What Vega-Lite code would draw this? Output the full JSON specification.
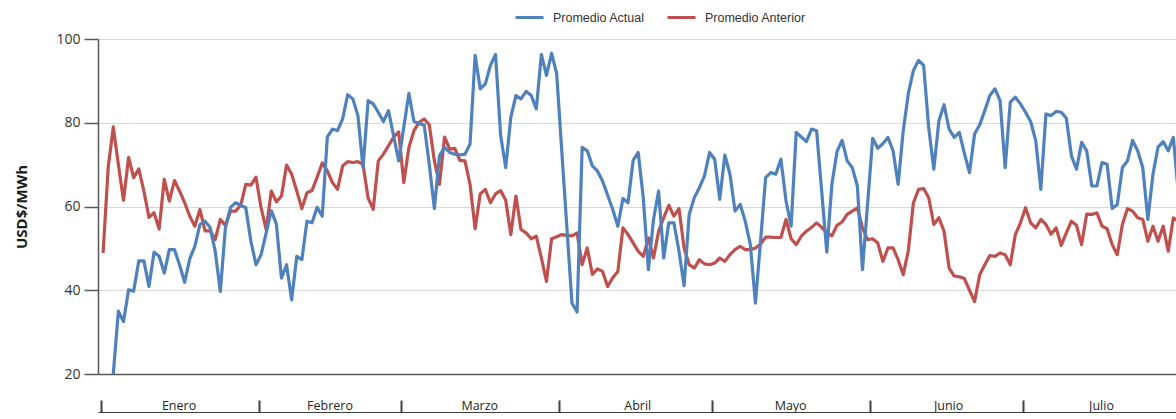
{
"$schema": "https://vega.github.io/schema/vega-lite/v6.json",
"width": 1078, "height": 335,
"autosize": {"type": "none"},
"padding": {"left": 98, "top": 39, "right": 0, "bottom": 45},
"background": "white",
"config": {"view": {"stroke": null}},
"data": {"format": {"parse": {"fecha": "utc:'%Y-%m-%d'"}}, "values": [
{"fecha":"2023-01-01","Promedio Actual":null,"Promedio Anterior":48.9},
{"fecha":"2023-01-02","Promedio Actual":null,"Promedio Anterior":69.3},
{"fecha":"2023-01-03","Promedio Actual":20,"Promedio Anterior":79},
{"fecha":"2023-01-04","Promedio Actual":35,"Promedio Anterior":70},
{"fecha":"2023-01-05","Promedio Actual":32.5,"Promedio Anterior":61.5},
{"fecha":"2023-01-06","Promedio Actual":40.1,"Promedio Anterior":71.7},
{"fecha":"2023-01-07","Promedio Actual":39.8,"Promedio Anterior":66.9},
{"fecha":"2023-01-08","Promedio Actual":47,"Promedio Anterior":69},
{"fecha":"2023-01-09","Promedio Actual":47,"Promedio Anterior":63.7},
{"fecha":"2023-01-10","Promedio Actual":40.9,"Promedio Anterior":57.4},
{"fecha":"2023-01-11","Promedio Actual":49.1,"Promedio Anterior":58.5},
{"fecha":"2023-01-12","Promedio Actual":48.1,"Promedio Anterior":54.6},
{"fecha":"2023-01-13","Promedio Actual":44.1,"Promedio Anterior":66.5},
{"fecha":"2023-01-14","Promedio Actual":49.7,"Promedio Anterior":61.3},
{"fecha":"2023-01-15","Promedio Actual":49.7,"Promedio Anterior":66.2},
{"fecha":"2023-01-16","Promedio Actual":46.1,"Promedio Anterior":63.7},
{"fecha":"2023-01-17","Promedio Actual":41.9,"Promedio Anterior":60.9},
{"fecha":"2023-01-18","Promedio Actual":47.5,"Promedio Anterior":57.7},
{"fecha":"2023-01-19","Promedio Actual":50.5,"Promedio Anterior":55.3},
{"fecha":"2023-01-20","Promedio Actual":55.7,"Promedio Anterior":59.3},
{"fecha":"2023-01-21","Promedio Actual":56.5,"Promedio Anterior":54.2},
{"fecha":"2023-01-22","Promedio Actual":55,"Promedio Anterior":54.2},
{"fecha":"2023-01-23","Promedio Actual":49.3,"Promedio Anterior":52.1},
{"fecha":"2023-01-24","Promedio Actual":39.7,"Promedio Anterior":56.9},
{"fecha":"2023-01-25","Promedio Actual":54.9,"Promedio Anterior":55.5},
{"fecha":"2023-01-26","Promedio Actual":59.8,"Promedio Anterior":58.9},
{"fecha":"2023-01-27","Promedio Actual":60.9,"Promedio Anterior":58.9},
{"fecha":"2023-01-28","Promedio Actual":60.3,"Promedio Anterior":60.3},
{"fecha":"2023-01-29","Promedio Actual":59.7,"Promedio Anterior":65.3},
{"fecha":"2023-01-30","Promedio Actual":51.7,"Promedio Anterior":65.1},
{"fecha":"2023-01-31","Promedio Actual":46.1,"Promedio Anterior":67},
{"fecha":"2023-02-01","Promedio Actual":48.5,"Promedio Anterior":59.7},
{"fecha":"2023-02-02","Promedio Actual":53.7,"Promedio Anterior":54.5},
{"fecha":"2023-02-03","Promedio Actual":59,"Promedio Anterior":63.7},
{"fecha":"2023-02-04","Promedio Actual":55.8,"Promedio Anterior":61.1},
{"fecha":"2023-02-05","Promedio Actual":42.9,"Promedio Anterior":62.5},
{"fecha":"2023-02-06","Promedio Actual":46.1,"Promedio Anterior":69.9},
{"fecha":"2023-02-07","Promedio Actual":37.7,"Promedio Anterior":67.7},
{"fecha":"2023-02-08","Promedio Actual":48.1,"Promedio Anterior":63.7},
{"fecha":"2023-02-09","Promedio Actual":47.3,"Promedio Anterior":59.5},
{"fecha":"2023-02-10","Promedio Actual":56.5,"Promedio Anterior":63.3},
{"fecha":"2023-02-11","Promedio Actual":56.1,"Promedio Anterior":63.8},
{"fecha":"2023-02-12","Promedio Actual":59.8,"Promedio Anterior":67},
{"fecha":"2023-02-13","Promedio Actual":57.7,"Promedio Anterior":70.4},
{"fecha":"2023-02-14","Promedio Actual":76.6,"Promedio Anterior":68.5},
{"fecha":"2023-02-15","Promedio Actual":78.5,"Promedio Anterior":65.7},
{"fecha":"2023-02-16","Promedio Actual":78.1,"Promedio Anterior":64.1},
{"fecha":"2023-02-17","Promedio Actual":80.9,"Promedio Anterior":69.7},
{"fecha":"2023-02-18","Promedio Actual":86.7,"Promedio Anterior":70.7},
{"fecha":"2023-02-19","Promedio Actual":85.7,"Promedio Anterior":70.5},
{"fecha":"2023-02-20","Promedio Actual":81.7,"Promedio Anterior":70.7},
{"fecha":"2023-02-21","Promedio Actual":69.3,"Promedio Anterior":70.1},
{"fecha":"2023-02-22","Promedio Actual":85.3,"Promedio Anterior":62},
{"fecha":"2023-02-23","Promedio Actual":84.5,"Promedio Anterior":59.3},
{"fecha":"2023-02-24","Promedio Actual":82.5,"Promedio Anterior":70.9},
{"fecha":"2023-02-25","Promedio Actual":80.3,"Promedio Anterior":72.5},
{"fecha":"2023-02-26","Promedio Actual":82.9,"Promedio Anterior":74.5},
{"fecha":"2023-02-27","Promedio Actual":76.9,"Promedio Anterior":76.6},
{"fecha":"2023-02-28","Promedio Actual":70.9,"Promedio Anterior":77.8},
{"fecha":"2023-03-01","Promedio Actual":78.9,"Promedio Anterior":65.7},
{"fecha":"2023-03-02","Promedio Actual":87,"Promedio Anterior":74.1},
{"fecha":"2023-03-03","Promedio Actual":80.3,"Promedio Anterior":78.1},
{"fecha":"2023-03-04","Promedio Actual":79.8,"Promedio Anterior":80.1},
{"fecha":"2023-03-05","Promedio Actual":79.5,"Promedio Anterior":80.9},
{"fecha":"2023-03-06","Promedio Actual":70.1,"Promedio Anterior":79.5},
{"fecha":"2023-03-07","Promedio Actual":59.5,"Promedio Anterior":70.9},
{"fecha":"2023-03-08","Promedio Actual":72.1,"Promedio Anterior":65.3},
{"fecha":"2023-03-09","Promedio Actual":74.1,"Promedio Anterior":76.6},
{"fecha":"2023-03-10","Promedio Actual":72.9,"Promedio Anterior":73.7},
{"fecha":"2023-03-11","Promedio Actual":72.5,"Promedio Anterior":73.9},
{"fecha":"2023-03-12","Promedio Actual":72.3,"Promedio Anterior":71},
{"fecha":"2023-03-13","Promedio Actual":72.5,"Promedio Anterior":70.9},
{"fecha":"2023-03-14","Promedio Actual":74.9,"Promedio Anterior":65.3},
{"fecha":"2023-03-15","Promedio Actual":96.1,"Promedio Anterior":54.7},
{"fecha":"2023-03-16","Promedio Actual":88.1,"Promedio Anterior":63},
{"fecha":"2023-03-17","Promedio Actual":89.3,"Promedio Anterior":64.1},
{"fecha":"2023-03-18","Promedio Actual":93.7,"Promedio Anterior":60.9},
{"fecha":"2023-03-19","Promedio Actual":96.3,"Promedio Anterior":63},
{"fecha":"2023-03-20","Promedio Actual":77,"Promedio Anterior":63.8},
{"fecha":"2023-03-21","Promedio Actual":69.3,"Promedio Anterior":61.5},
{"fecha":"2023-03-22","Promedio Actual":81.3,"Promedio Anterior":53.3},
{"fecha":"2023-03-23","Promedio Actual":86.5,"Promedio Anterior":62.5},
{"fecha":"2023-03-24","Promedio Actual":85.7,"Promedio Anterior":54.5},
{"fecha":"2023-03-25","Promedio Actual":87.5,"Promedio Anterior":53.7},
{"fecha":"2023-03-26","Promedio Actual":86.5,"Promedio Anterior":52.3},
{"fecha":"2023-03-27","Promedio Actual":83.3,"Promedio Anterior":52.9},
{"fecha":"2023-03-28","Promedio Actual":96.3,"Promedio Anterior":47.7},
{"fecha":"2023-03-29","Promedio Actual":91.3,"Promedio Anterior":42.1},
{"fecha":"2023-03-30","Promedio Actual":96.6,"Promedio Anterior":52.3},
{"fecha":"2023-03-31","Promedio Actual":91.7,"Promedio Anterior":52.8},
{"fecha":"2023-04-01","Promedio Actual":73.3,"Promedio Anterior":53.3},
{"fecha":"2023-04-02","Promedio Actual":55,"Promedio Anterior":53.1},
{"fecha":"2023-04-03","Promedio Actual":36.9,"Promedio Anterior":53},
{"fecha":"2023-04-04","Promedio Actual":34.8,"Promedio Anterior":53.7},
{"fecha":"2023-04-05","Promedio Actual":74.1,"Promedio Anterior":46.1},
{"fecha":"2023-04-06","Promedio Actual":73.3,"Promedio Anterior":50.1},
{"fecha":"2023-04-07","Promedio Actual":69.7,"Promedio Anterior":43.8},
{"fecha":"2023-04-08","Promedio Actual":68.5,"Promedio Anterior":45.1},
{"fecha":"2023-04-09","Promedio Actual":66.1,"Promedio Anterior":44.5},
{"fecha":"2023-04-10","Promedio Actual":62.7,"Promedio Anterior":40.9},
{"fecha":"2023-04-11","Promedio Actual":59.3,"Promedio Anterior":43},
{"fecha":"2023-04-12","Promedio Actual":55.3,"Promedio Anterior":44.5},
{"fecha":"2023-04-13","Promedio Actual":61.9,"Promedio Anterior":54.9},
{"fecha":"2023-04-14","Promedio Actual":60.9,"Promedio Anterior":53.3},
{"fecha":"2023-04-15","Promedio Actual":71,"Promedio Anterior":51.3},
{"fecha":"2023-04-16","Promedio Actual":72.9,"Promedio Anterior":49.3},
{"fecha":"2023-04-17","Promedio Actual":62,"Promedio Anterior":48.1},
{"fecha":"2023-04-18","Promedio Actual":44.9,"Promedio Anterior":52.5},
{"fecha":"2023-04-19","Promedio Actual":56.9,"Promedio Anterior":47.7},
{"fecha":"2023-04-20","Promedio Actual":63.7,"Promedio Anterior":54.1},
{"fecha":"2023-04-21","Promedio Actual":47.7,"Promedio Anterior":57.3},
{"fecha":"2023-04-22","Promedio Actual":56.1,"Promedio Anterior":60.3},
{"fecha":"2023-04-23","Promedio Actual":56.1,"Promedio Anterior":57.7},
{"fecha":"2023-04-24","Promedio Actual":49.3,"Promedio Anterior":59.5},
{"fecha":"2023-04-25","Promedio Actual":41.1,"Promedio Anterior":50.1},
{"fecha":"2023-04-26","Promedio Actual":58.1,"Promedio Anterior":46.1},
{"fecha":"2023-04-27","Promedio Actual":62.1,"Promedio Anterior":45.3},
{"fecha":"2023-04-28","Promedio Actual":64.5,"Promedio Anterior":47.3},
{"fecha":"2023-04-29","Promedio Actual":67.3,"Promedio Anterior":46.3},
{"fecha":"2023-04-30","Promedio Actual":72.9,"Promedio Anterior":46.1},
{"fecha":"2023-05-01","Promedio Actual":71.3,"Promedio Anterior":46.5},
{"fecha":"2023-05-02","Promedio Actual":61.7,"Promedio Anterior":47.7},
{"fecha":"2023-05-03","Promedio Actual":72.3,"Promedio Anterior":46.9},
{"fecha":"2023-05-04","Promedio Actual":67.7,"Promedio Anterior":48.5},
{"fecha":"2023-05-05","Promedio Actual":58.9,"Promedio Anterior":49.7},
{"fecha":"2023-05-06","Promedio Actual":60.5,"Promedio Anterior":50.5},
{"fecha":"2023-05-07","Promedio Actual":56.5,"Promedio Anterior":49.7},
{"fecha":"2023-05-08","Promedio Actual":50.9,"Promedio Anterior":49.7},
{"fecha":"2023-05-09","Promedio Actual":36.9,"Promedio Anterior":50.1},
{"fecha":"2023-05-10","Promedio Actual":51.7,"Promedio Anterior":51},
{"fecha":"2023-05-11","Promedio Actual":66.9,"Promedio Anterior":52.7},
{"fecha":"2023-05-12","Promedio Actual":68.1,"Promedio Anterior":52.7},
{"fecha":"2023-05-13","Promedio Actual":67.7,"Promedio Anterior":52.6},
{"fecha":"2023-05-14","Promedio Actual":71.3,"Promedio Anterior":52.6},
{"fecha":"2023-05-15","Promedio Actual":61.3,"Promedio Anterior":56.9},
{"fecha":"2023-05-16","Promedio Actual":55.3,"Promedio Anterior":52.3},
{"fecha":"2023-05-17","Promedio Actual":77.7,"Promedio Anterior":50.9},
{"fecha":"2023-05-18","Promedio Actual":76.6,"Promedio Anterior":52.9},
{"fecha":"2023-05-19","Promedio Actual":75.5,"Promedio Anterior":54.1},
{"fecha":"2023-05-20","Promedio Actual":78.5,"Promedio Anterior":55},
{"fecha":"2023-05-21","Promedio Actual":78.1,"Promedio Anterior":56.1},
{"fecha":"2023-05-22","Promedio Actual":63.6,"Promedio Anterior":55},
{"fecha":"2023-05-23","Promedio Actual":49.1,"Promedio Anterior":53.7},
{"fecha":"2023-05-24","Promedio Actual":65.3,"Promedio Anterior":53},
{"fecha":"2023-05-25","Promedio Actual":73.1,"Promedio Anterior":55.5},
{"fecha":"2023-05-26","Promedio Actual":75.8,"Promedio Anterior":56.3},
{"fecha":"2023-05-27","Promedio Actual":70.9,"Promedio Anterior":58.1},
{"fecha":"2023-05-28","Promedio Actual":69.3,"Promedio Anterior":58.9},
{"fecha":"2023-05-29","Promedio Actual":64.9,"Promedio Anterior":59.7},
{"fecha":"2023-05-30","Promedio Actual":44.9,"Promedio Anterior":54.9},
{"fecha":"2023-05-31","Promedio Actual":60.5,"Promedio Anterior":52.1},
{"fecha":"2023-06-01","Promedio Actual":76.3,"Promedio Anterior":52.3},
{"fecha":"2023-06-02","Promedio Actual":73.9,"Promedio Anterior":51.3},
{"fecha":"2023-06-03","Promedio Actual":75,"Promedio Anterior":46.9},
{"fecha":"2023-06-04","Promedio Actual":76.5,"Promedio Anterior":50.1},
{"fecha":"2023-06-05","Promedio Actual":73.3,"Promedio Anterior":50.1},
{"fecha":"2023-06-06","Promedio Actual":65.3,"Promedio Anterior":47.3},
{"fecha":"2023-06-07","Promedio Actual":78.1,"Promedio Anterior":43.7},
{"fecha":"2023-06-08","Promedio Actual":87,"Promedio Anterior":49.5},
{"fecha":"2023-06-09","Promedio Actual":92.5,"Promedio Anterior":60.9},
{"fecha":"2023-06-10","Promedio Actual":94.9,"Promedio Anterior":64.1},
{"fecha":"2023-06-11","Promedio Actual":93.7,"Promedio Anterior":64.3},
{"fecha":"2023-06-12","Promedio Actual":78.8,"Promedio Anterior":62.1},
{"fecha":"2023-06-13","Promedio Actual":68.9,"Promedio Anterior":55.7},
{"fecha":"2023-06-14","Promedio Actual":80.5,"Promedio Anterior":57.3},
{"fecha":"2023-06-15","Promedio Actual":84.3,"Promedio Anterior":54.1},
{"fecha":"2023-06-16","Promedio Actual":78.5,"Promedio Anterior":45.3},
{"fecha":"2023-06-17","Promedio Actual":76.5,"Promedio Anterior":43.4},
{"fecha":"2023-06-18","Promedio Actual":77.7,"Promedio Anterior":43.2},
{"fecha":"2023-06-19","Promedio Actual":72.7,"Promedio Anterior":42.8},
{"fecha":"2023-06-20","Promedio Actual":68.1,"Promedio Anterior":40},
{"fecha":"2023-06-21","Promedio Actual":77.3,"Promedio Anterior":37.3},
{"fecha":"2023-06-22","Promedio Actual":79.5,"Promedio Anterior":43.7},
{"fecha":"2023-06-23","Promedio Actual":82.9,"Promedio Anterior":46.1},
{"fecha":"2023-06-24","Promedio Actual":86.5,"Promedio Anterior":48.3},
{"fecha":"2023-06-25","Promedio Actual":88.1,"Promedio Anterior":48.1},
{"fecha":"2023-06-26","Promedio Actual":85.3,"Promedio Anterior":48.9},
{"fecha":"2023-06-27","Promedio Actual":69.3,"Promedio Anterior":48.5},
{"fecha":"2023-06-28","Promedio Actual":84.9,"Promedio Anterior":46.1},
{"fecha":"2023-06-29","Promedio Actual":86.1,"Promedio Anterior":53.3},
{"fecha":"2023-06-30","Promedio Actual":84.5,"Promedio Anterior":56.1},
{"fecha":"2023-07-01","Promedio Actual":82.5,"Promedio Anterior":59.7},
{"fecha":"2023-07-02","Promedio Actual":80.3,"Promedio Anterior":56.1},
{"fecha":"2023-07-03","Promedio Actual":75.7,"Promedio Anterior":54.9},
{"fecha":"2023-07-04","Promedio Actual":64.1,"Promedio Anterior":56.9},
{"fecha":"2023-07-05","Promedio Actual":82.1,"Promedio Anterior":55.7},
{"fecha":"2023-07-06","Promedio Actual":81.7,"Promedio Anterior":53.4},
{"fecha":"2023-07-07","Promedio Actual":82.7,"Promedio Anterior":54.9},
{"fecha":"2023-07-08","Promedio Actual":82.5,"Promedio Anterior":50.7},
{"fecha":"2023-07-09","Promedio Actual":81.1,"Promedio Anterior":53.7},
{"fecha":"2023-07-10","Promedio Actual":72.1,"Promedio Anterior":56.5},
{"fecha":"2023-07-11","Promedio Actual":68.9,"Promedio Anterior":55.5},
{"fecha":"2023-07-12","Promedio Actual":75.3,"Promedio Anterior":50.9},
{"fecha":"2023-07-13","Promedio Actual":73.3,"Promedio Anterior":58.2},
{"fecha":"2023-07-14","Promedio Actual":64.9,"Promedio Anterior":58.1},
{"fecha":"2023-07-15","Promedio Actual":64.9,"Promedio Anterior":58.5},
{"fecha":"2023-07-16","Promedio Actual":70.5,"Promedio Anterior":55.3},
{"fecha":"2023-07-17","Promedio Actual":70.1,"Promedio Anterior":54.7},
{"fecha":"2023-07-18","Promedio Actual":59.5,"Promedio Anterior":50.9},
{"fecha":"2023-07-19","Promedio Actual":60.5,"Promedio Anterior":48.5},
{"fecha":"2023-07-20","Promedio Actual":69.3,"Promedio Anterior":55.7},
{"fecha":"2023-07-21","Promedio Actual":70.9,"Promedio Anterior":59.5},
{"fecha":"2023-07-22","Promedio Actual":75.8,"Promedio Anterior":58.9},
{"fecha":"2023-07-23","Promedio Actual":73.3,"Promedio Anterior":57.3},
{"fecha":"2023-07-24","Promedio Actual":69.3,"Promedio Anterior":56.9},
{"fecha":"2023-07-25","Promedio Actual":56.9,"Promedio Anterior":51.7},
{"fecha":"2023-07-26","Promedio Actual":67.7,"Promedio Anterior":55.3},
{"fecha":"2023-07-27","Promedio Actual":74.2,"Promedio Anterior":51.7},
{"fecha":"2023-07-28","Promedio Actual":75.5,"Promedio Anterior":55.3},
{"fecha":"2023-07-29","Promedio Actual":73.3,"Promedio Anterior":49.3},
{"fecha":"2023-07-30","Promedio Actual":76.5,"Promedio Anterior":57.3},
{"fecha":"2023-07-31","Promedio Actual":63,"Promedio Anterior":56.5}
]},
"transform": [
  {"fold": ["Promedio Actual", "Promedio Anterior"], "as": ["serie", "valor"]},
  {"filter": "datum.valor != null"}
],
"mark": {"type": "line", "strokeWidth": 3.2, "clip": true, "strokeJoin": "round"},
"encoding": {
  "x": {
    "field": "fecha", "type": "temporal",
    "scale": {"type": "utc", "domain": [
      {"year": 2022, "month": 12, "date": 31, "utc": true},
      {"year": 2023, "month": 7, "date": 30, "hours": 12, "minutes": 30, "utc": true}
    ]},
    "axis": {
      "title": null,
      "values": [
        {"year": 2022, "month": 12, "date": 31, "hours": 12, "utc": true},
        {"year": 2023, "month": 1, "date": 31, "hours": 12, "utc": true},
        {"year": 2023, "month": 2, "date": 28, "hours": 12, "utc": true},
        {"year": 2023, "month": 3, "date": 31, "hours": 12, "utc": true},
        {"year": 2023, "month": 4, "date": 30, "hours": 12, "utc": true},
        {"year": 2023, "month": 5, "date": 31, "hours": 12, "utc": true},
        {"year": 2023, "month": 6, "date": 30, "hours": 12, "utc": true}
      ],
      "labelExpr": "['Enero','Febrero','Marzo','Abril','Mayo','Junio','Julio','Agosto','Septiembre','Octubre','Noviembre','Diciembre'][utcmonth(datum.value + 86400000)]",
      "grid": false,
      "offset": 38,
      "domainColor": "#404040", "domainWidth": 1,
      "tickColor": "#404040", "tickSize": -12, "tickWidth": 2,
      "labelAlign": "center", "labelBaseline": "middle", "labelPadding": 5,
      "labelOffset": {"condition": {"test": "utcmonth(datum.value + 86400000) == 1", "value": 71}, "value": 78},
      "labelFlush": false, "labelOverlap": false, "labelBound": false,
      "labelFont": "Open Sans", "labelFontSize": 12.5, "labelColor": "#262626"
    }
  },
  "y": {
    "field": "valor", "type": "quantitative",
    "scale": {"domain": [20, 100], "nice": false, "zero": false},
    "axis": {
      "title": "USD$/MWh",
      "values": [20, 40, 60, 80, 100],
      "grid": true,
      "gridColor": {"condition": {"test": "datum.value == 20", "value": "#595959"}, "value": "#d9d9d9"},
      "gridWidth": {"condition": {"test": "datum.value == 20", "value": 1.5}, "value": 1},
      "domainColor": "#595959", "domainWidth": 1.5,
      "tickColor": "#595959", "tickSize": 14, "tickWidth": 1.5,
      "labelFont": "Open Sans", "labelFontSize": 14, "labelColor": "#333333", "labelPadding": 4,
      "titleFont": "Open Sans", "titleFontSize": 15, "titleFontWeight": "bold", "titleColor": "#1a1a1a",
      "titlePadding": 26
    }
  },
  "color": {
    "field": "serie", "type": "nominal",
    "scale": {"domain": ["Promedio Actual", "Promedio Anterior"], "range": ["#4F81BD", "#C0504D"]},
    "legend": {
      "title": null, "orient": "none", "legendX": 416, "legendY": -37,
      "direction": "horizontal", "symbolType": "stroke", "symbolSize": 784, "symbolStrokeWidth": 3,
      "labelFont": "Liberation Sans", "labelFontSize": 12.5, "labelColor": "#333333",
      "labelOffset": 8, "columnPadding": 16, "padding": 0
    }
  }
}
}
